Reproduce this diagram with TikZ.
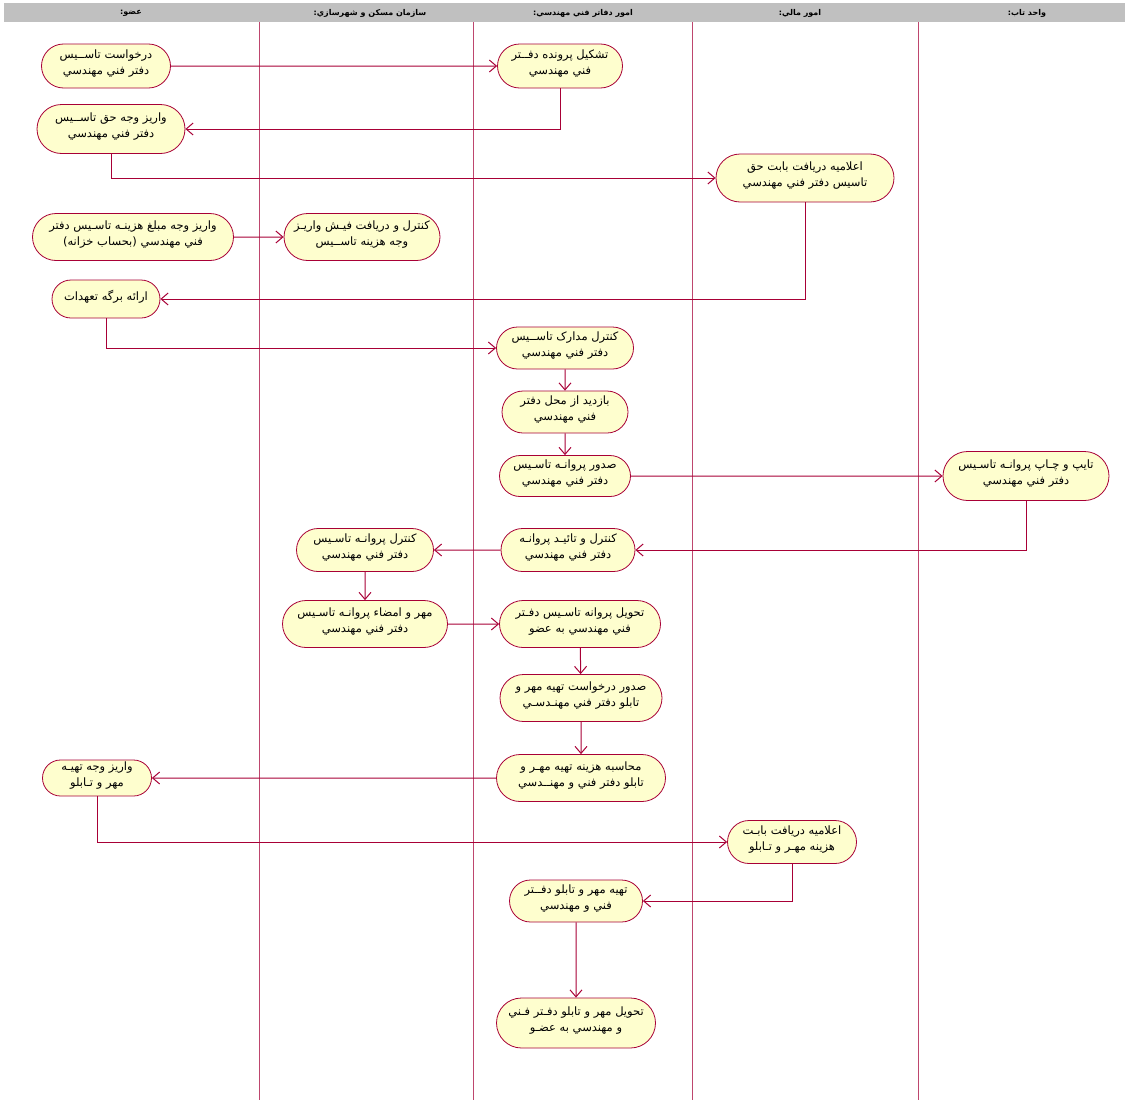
\documentclass[tikz,border=0pt]{standalone}
\usepackage{fontspec}
\usepackage{tikz}
\usetikzlibrary{shapes.misc}
\usetikzlibrary{arrows.meta}
\newfontfamily\farsi[Script=Arabic]{DejaVu Sans}
\TeXXeTstate=1
\definecolor{actfill}{RGB}{254,254,206}
\definecolor{actline}{RGB}{168,0,54}
\definecolor{laneline}{RGB}{190,70,110}
\definecolor{hdrgray}{RGB}{192,192,192}
\newcommand{\rtxt}[1]{\beginR #1\endR}
\newcommand{\activity}[6]{\node[actbox, minimum width=#4pt, minimum height=#5pt] (#1) at ( #2 , #3 ) {#6};}
\newcommand{\lanetitle}[3]{\node[lanehead] (#1) at ( #2 , 13 ) {#3};}
\newcommand{\lanesep}[1]{\draw[lanesep] ( #1 , 22 ) -- ( #1 , 1100 );}
\tikzset{
  actbox/.style={rounded rectangle, draw=actline, fill=actfill, line width=0.8pt,
    inner sep=1pt, text depth=8pt, align=center, font=\farsi\fontsize{11.5}{16}\selectfont},
  lanehead/.style={inner sep=0pt, font=\farsi\bfseries\fontsize{8}{9}\selectfont},
  lanesep/.style={draw=laneline, line width=0.8pt},
  flow/.style={draw=actline, line width=1pt, -{Straight Barb[length=7pt,width=12pt]}}
}
\begin{document}
\begin{tikzpicture}[x=1pt,y=-1pt]
            \useasboundingbox (0,0) rectangle (1125,1100);
            % header
            \fill[hdrgray] (4,3) rectangle (1125,22);
            \lanetitle{t1}{131}{\beginR عضو:\endR}
            \lanetitle{t2}{370}{\beginR سازمان مسکن و شهرسازي:\endR}
            \lanetitle{t3}{583}{\beginR امور دفاتر فني مهندسي:\endR}
            \lanetitle{t4}{800}{\beginR امور مالي:\endR}
            \lanetitle{t5}{1027}{\beginR واحد تاب:\endR}
            % lanes
            \lanesep{259}
            \lanesep{473}
            \lanesep{692}
            \lanesep{918}

            % founding request
            \activity{n1}{106}{66}{131}{44}{\rtxt{درخواست تاســيس}\\\rtxt{دفتر فني مهندسي}}
            \activity{n2}{560}{66}{127}{44}{\rtxt{تشکيل پرونده دفــتر}\\\rtxt{فني مهندسي}}
            \activity{n3}{111}{129}{150}{49}{\rtxt{واريز وجه حق تاســيس}\\\rtxt{دفتر فني مهندسي}}
            \activity{n4}{805}{178}{180}{48}{\rtxt{اعلاميه دريافت بابت حق}\\\rtxt{تاسيس دفتر فني مهندسي}}
            \activity{n5}{133}{237}{203}{47}{\rtxt{واريز وجه مبلغ هزينـه تاسـيس دفتر}\\\rtxt{فني مهندسي (بحساب خزانه)}}
            \activity{n6}{362}{237}{158}{47}{\rtxt{کنترل و دريافت فيـش واريـز}\\\rtxt{وجه هزينه تاســيس}}
            \activity{n7}{106}{299}{110}{38}{\rtxt{ارائه برگه تعهدات}}
            % licence
            \activity{n8}{565}{348}{139}{42}{\rtxt{کنترل مدارک تاســيس}\\\rtxt{دفتر فني مهندسي}}
            \activity{n9}{565}{412}{128}{42}{\rtxt{بازديد از محل دفتر}\\\rtxt{فني مهندسي}}
            \activity{n10}{565}{476}{133}{41}{\rtxt{صدور پروانـه تاسـيس}\\\rtxt{دفتر فني مهندسي}}
            \activity{n11}{1026}{476}{168}{49}{\rtxt{تايپ و چـاپ پروانـه تاسـيس}\\\rtxt{دفتر فني مهندسي}}
            \activity{n12}{568}{550}{136}{43}{\rtxt{کنترل و تائيـد پروانـه}\\\rtxt{دفتر فني مهندسي}}
            \activity{n13}{365}{550}{139}{43}{\rtxt{کنترل پروانـه تاسـيس}\\\rtxt{دفتر فني مهندسي}}
            \activity{n14}{365}{624}{167}{47}{\rtxt{مهر و امضاء پروانـه تاسـيس}\\\rtxt{دفتر فني مهندسي}}
            \activity{n15}{580}{624}{163}{47}{\rtxt{تحويل پروانه تاسـيس دفـتر}\\\rtxt{فني مهندسي  به عضو}}
            % seal and board
            \activity{n16}{581}{698}{164}{47}{\rtxt{صدور درخواست تهيه مهر و}\\\rtxt{تابلو دفتر فني مهنـدسـي}}
            \activity{n17}{581}{778}{171}{47}{\rtxt{محاسبه هزينه تهيه مهـر و}\\\rtxt{تابلو دفتر فني و مهنــدسي}}
            \activity{n18}{97}{778}{111}{36}{\rtxt{واريز وجه تهيـه}\\\rtxt{مهر و تـابلو}}
            \activity{n19}{792}{842}{131}{43}{\rtxt{اعلاميه دريافت بابـت}\\\rtxt{هزينه مهـر و تـابلو}}
            \activity{n20}{576}{901}{135}{42}{\rtxt{تهيه مهر و تابلو دفــتر}\\\rtxt{فني و مهندسي}}
            \activity{n21}{576}{1023}{161}{50}{\rtxt{تحويل مهر و تابلو دفـتر فـني}\\\rtxt{و مهندسي به عضـو}}

            % flows
            \draw[flow] (n1) -- (n2);
            \draw[flow] (n2.south) |- (n3.east);
            \draw[flow] (n3.south) |- (n4.west);
            \draw[flow] (n5) -- (n6);
            \draw[flow] (n4.south) |- (n7.east);
            \draw[flow] (n7.south) |- (n8.west);
            \draw[flow] (n8) -- (n9);
            \draw[flow] (n9) -- (n10);
            \draw[flow] (n10) -- (n11);
            \draw[flow] (n11.south) |- (n12.east);
            \draw[flow] (n12) -- (n13);
            \draw[flow] (n13) -- (n14);
            \draw[flow] (n14) -- (n15);
            \draw[flow] (n15) -- (n16);
            \draw[flow] (n16) -- (n17);
            \draw[flow] (n17) -- (n18);
            \draw[flow] (n18.south) |- (n19.west);
            \draw[flow] (n19.south) |- (n20.east);
            \draw[flow] (n20) -- (n21);
        \end{tikzpicture}
\end{document}
